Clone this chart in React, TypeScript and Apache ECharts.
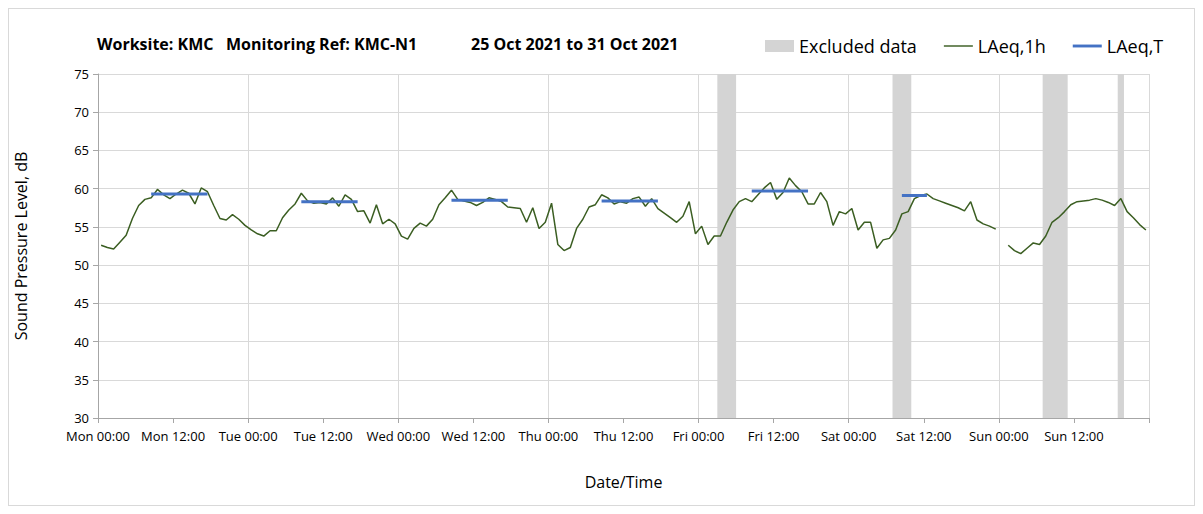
import React, { useEffect, useRef } from "react";
import * as echarts from "echarts";

// Hourly LAeq,1h values (dB), Mon 00:00 .. Sun 23:00, null = missing
const lAeq1h: (number | null)[] = [
  52.6, 52.3, 52.1, 53.0, 53.9, 56.1, 57.8, 58.6, 58.8, 59.9, 59.2, 58.7, 59.3, 59.8, 59.4, 58.0, 60.1, 59.6, 57.8, 56.1, 55.9, 56.6, 56.0, 55.2,
  54.6, 54.1, 53.8, 54.5, 54.5, 56.2, 57.2, 58.0, 59.4, 58.4, 58.1, 58.2, 58.0, 58.8, 57.7, 59.2, 58.6, 57.0, 57.1, 55.5, 57.9, 55.4, 56.0, 55.4,
  53.8, 53.4, 54.8, 55.5, 55.1, 56.0, 57.9, 58.8, 59.8, 58.6, 58.4, 58.2, 57.8, 58.2, 58.8, 58.6, 58.3, 57.6, 57.5, 57.4, 55.6, 57.5, 54.8, 55.6,
  58.1, 52.7, 51.9, 52.3, 54.8, 56.0, 57.6, 57.9, 59.2, 58.8, 58.0, 58.3, 58.1, 58.7, 58.9, 57.7, 58.7, 57.4, 56.8, 56.2, 55.6, 56.4, 58.3, 54.1,
  55.1, 52.7, 53.8, 53.8, 55.6, 57.2, 58.3, 58.7, 58.3, 59.2, 60.1, 60.8, 58.6, 59.5, 61.4, 60.4, 59.6, 58.0, 58.0, 59.5, 58.3, 55.2, 57.0, 56.7,
  57.4, 54.6, 55.6, 55.6, 52.2, 53.3, 53.5, 54.6, 56.7, 57.0, 58.7, 59.1, 59.3, 58.7, 58.4, 58.1, 57.8, 57.5, 57.1, 58.3, 55.9, 55.4, 55.1, 54.7,
  null, 52.6, 51.9, 51.5, 52.2, 52.9, 52.7, 53.8, 55.6, 56.2, 57.0, 57.9, 58.3, 58.4, 58.5, 58.7, 58.5, 58.2, 57.8, 58.7, 57.0, 56.2, 55.3, 54.6,
];

// LAeq,T periods (hours from Mon 00:00)
const lAeqTStart = [8.5, 32.5, 56.5, 80.5, 104.5, 128.5];
const lAeqTEnd = [17.5, 41.5, 65.5, 89.5, 113.5, 132.5];
const lAeqTValue = [59.3, 58.3, 58.5, 58.4, 59.7, 59.1];

// Excluded data periods (hours from Mon 00:00)
const excludedStart = [99, 127, 151, 163];
const excludedEnd = [102, 130, 155, 164];

const dayNames = ["Mon", "Tue", "Wed", "Thu", "Fri", "Sat", "Sun"];
const titleParts = ["Worksite: KMC", "Monitoring Ref: KMC-N1", "25 Oct 2021 to 31 Oct 2021"];
const yMin = 30;
const yMax = 75;
const xMax = 168;

const FONT = "'Open Sans', sans-serif";
const GREEN = "#3b5e22";
const BLUE = "#4472c4";
const GREY = "#d4d4d4";

export default function App() {
  const ref = useRef<HTMLDivElement>(null);

  useEffect(() => {
    if (!ref.current) return;
    const chart = echarts.init(ref.current, null, { renderer: "svg" });

    const lineData = lAeq1h.map((v, i) => [i + 0.5, v === null ? "-" : v]);
    const tData: any[] = [];
    lAeqTStart.forEach((s, i) => {
      tData.push([s, lAeqTValue[i]]);
      tData.push([lAeqTEnd[i], lAeqTValue[i]]);
      tData.push([lAeqTEnd[i], "-"]);
    });
    const exData = excludedStart.map((s, i) => [s, excludedEnd[i]]);

    const titleX = [88, 217, 462];

    chart.setOption({
      animation: false,
      backgroundColor: "#ffffff",
      textStyle: { fontFamily: FONT },
      graphic: titleParts.map((t, i) => ({
        type: "text",
        left: titleX[i],
        top: 27,
        style: { text: t, font: `bold 16px ${FONT}`, fill: "#000" },
      })),
      legend: {
        left: 751,
        top: 23,
        itemWidth: 29,
        itemHeight: 12,
        itemGap: 27,
        textStyle: { fontSize: 18, color: "#000", fontFamily: FONT },
        data: [
          { name: "Excluded data", icon: "rect" },
          { name: "LAeq,1h", icon: "path://M0,0H30V1.5H0Z" },
          { name: "LAeq,T", icon: "path://M0,0H30V3H0Z" },
        ],
      },
      grid: { left: 89, right: 45, top: 65, bottom: 87, containLabel: false, outerBoundsMode: "none" },
      xAxis: [
        {
          type: "value",
          min: 0,
          max: xMax,
          interval: 12,
          name: "Date/Time",
          nameLocation: "middle",
          nameGap: 56,
          nameTextStyle: { fontSize: 16, color: "#000", fontFamily: FONT },
          axisLine: { show: true, lineStyle: { color: "#a6a6a6" } },
          axisTick: { show: true, length: 5, lineStyle: { color: "#a6a6a6" } },
          splitLine: { show: false },
          axisLabel: {
            fontSize: 13,
            color: "#000",
            margin: 11,
            fontFamily: FONT,
            formatter: (v: number) => {
              if (v >= xMax) return "";
              const d = Math.floor(v / 24);
              const h = v % 24;
              return `${dayNames[d]} ${h === 0 ? "00" : "12"}:00`;
            },
          },
        },
        {
          type: "value",
          min: 0,
          max: xMax,
          interval: 24,
          position: "bottom",
          axisLine: { show: false },
          axisTick: { show: false },
          axisLabel: { show: false },
          splitLine: { show: true, lineStyle: { color: "#d9d9d9", width: 1 } },
        },
      ],
      yAxis: {
        type: "value",
        min: yMin,
        max: yMax,
        interval: 5,
        name: "Sound Pressure Level, dB",
        nameLocation: "middle",
        nameGap: 69,
        nameTextStyle: { fontSize: 16, color: "#000", fontFamily: FONT },
        axisLine: { show: true, lineStyle: { color: "#a6a6a6" } },
        axisTick: { show: true, length: 5, lineStyle: { color: "#a6a6a6" } },
        axisLabel: { fontSize: 13, color: "#000", margin: 9, fontFamily: FONT },
        splitLine: { show: true, lineStyle: { color: "#d9d9d9", width: 1 } },
      },
      series: [
        {
          name: "Excluded data",
          type: "custom",
          xAxisIndex: 0,
          itemStyle: { color: GREY },
          encode: { x: [0, 1] },
          data: exData,
          renderItem: (params: any, api: any) => {
            const p0 = api.coord([api.value(0), yMax]);
            const p1 = api.coord([api.value(1), yMin]);
            return {
              type: "rect",
              shape: { x: p0[0], y: p0[1], width: p1[0] - p0[0], height: p1[1] - p0[1] },
              style: { fill: GREY },
            };
          },
          z: 1,
        },
        {
          name: "LAeq,1h",
          type: "line",
          xAxisIndex: 0,
          data: lineData,
          symbol: "none",
          connectNulls: false,
          itemStyle: { color: GREEN },
          lineStyle: { color: GREEN, width: 1.5 },
          z: 3,
        },
        {
          name: "LAeq,T",
          type: "line",
          xAxisIndex: 0,
          data: tData,
          symbol: "none",
          connectNulls: false,
          itemStyle: { color: BLUE },
          lineStyle: { color: BLUE, width: 3 },
          z: 4,
        },
      ],
    });

    return () => chart.dispose();
  }, []);

  return (
    <div
      ref={ref}
      style={{ width: 1187, height: 498, border: "1px solid #d9d9d9", boxSizing: "border-box" }}
    />
  );
}
